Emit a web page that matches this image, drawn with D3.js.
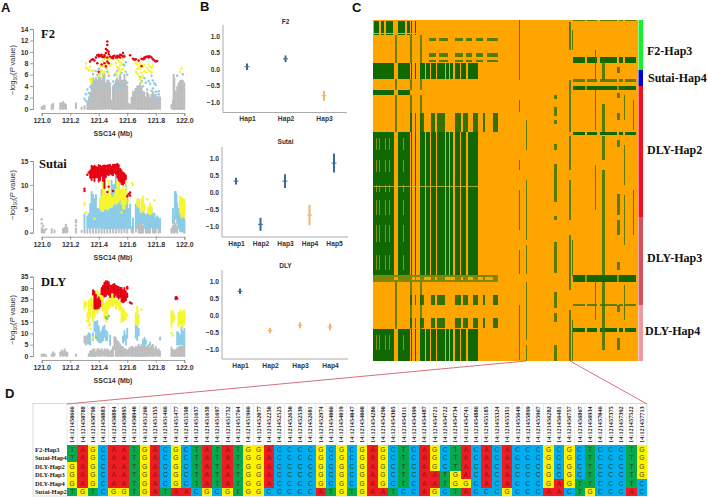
<!DOCTYPE html>
<html><head><meta charset="utf-8">
<script src="https://d3js.org/d3.v7.min.js"></script>
<style>html,body{margin:0;padding:0;background:#fff;overflow:hidden}svg{display:block}</style>
</head><body><svg id="c" width="708" height="497"></svg>
<script>
// ---------- Panel A data: [Mb, low, high] columns of dense SNP clouds, [Mb, -log10P] single SNPs
const mbTicks=[121.0,121.2,121.4,121.6,121.8,122.0];
const f2Ticks=[0,2,4,6,8,10,12,14], sutaiTicks=[0,5,10,15], dlyTicks=[0,5,10,15,20,25,30,35];

const f2Gray=[[121,0,.5],[121.01,0,.5],[121.02,0,.6],[121.07,0,.7],[121.08,0,.9],[121.13,0,1],[121.14,0,1],[121.15,0,1.3],[121.16,0,.9],[121.17,0,.8],[121.24,0,1],[121.28,0,.4],[121.3,0,.6],[121.32,0,1.2],[121.33,0,2],[121.34,0,3],[121.35,0,5],[121.36,0,5.5],[121.37,0,5],[121.38,0,5.5],[121.39,0,5],[121.4,0,6.5],[121.41,0,5.5],[121.42,0,5],[121.43,0,6],[121.44,0,6.5],[121.45,0,4.5],[121.46,0,5],[121.47,0,5],[121.48,0,4],[121.49,0,1.5],[121.5,0,4],[121.51,0,4.5],[121.52,0,5],[121.53,0,5.5],[121.54,0,5],[121.55,0,6],[121.56,0,5],[121.57,0,5],[121.58,0,6],[121.59,0,5],[121.6,0,4],[121.61,0,1],[121.62,0,.8],[121.63,0,2],[121.64,0,3],[121.65,0,3],[121.66,0,3.5],[121.67,0,4],[121.68,0,4],[121.69,0,4.5],[121.7,0,4],[121.71,0,3],[121.72,0,3],[121.73,0,2],[121.74,0,3],[121.75,0,2.5],[121.76,0,2],[121.77,0,2.5],[121.78,0,3],[121.79,0,2.5],[121.8,0,2.5],[121.81,0,2],[121.82,0,2.2],[121.83,0,2],[121.91,0,.7],[121.92,0,1.5],[121.925,1,6],[121.93,0,5.5],[121.94,0,3],[121.95,0,4],[121.96,0,4.5],[121.97,0,5],[121.98,0,5],[121.99,0,5],[122,0,4.5]];
const f2Blue=[[121.3,1.8],[121.31,2.6],[121.32,3.4],[121.33,1.5],[121.34,3.9],[121.35,2.2],[121.37,4.8],[121.38,6.6],[121.39,5.9],[121.4,7],[121.41,6.2],[121.43,5.3],[121.44,3.9],[121.45,7.2],[121.47,5.8],[121.5,4.8],[121.51,5.9],[121.52,4.4],[121.53,6.7],[121.54,4.3],[121.55,5.5],[121.56,6.3],[121.57,7.8],[121.58,9.4],[121.59,6.5],[121.6,4.6],[121.66,3.5],[121.68,2.8],[121.7,4.9],[121.72,5.4],[121.74,3.4],[121.76,4.4],[121.77,5.8],[121.78,3.6],[121.79,2],[121.8,4.2],[121.81,1.6],[121.95,5.8],[121.99,6.1],[121.31,1.4],[121.33,2.8],[121.35,3.7],[121.36,6.1],[121.38,4.1],[121.42,6.7],[121.46,6.5],[121.48,4.4],[121.5,3.2],[121.52,6.2],[121.54,7.1],[121.55,4],[121.56,3.5],[121.58,7.6],[121.59,8.2],[121.6,6],[121.69,5.6],[121.71,4],[121.73,4.6],[121.75,4.9],[121.77,3.2],[121.78,5],[121.79,4.5],[121.8,3],[121.82,3.1],[121.82,2.6]];
const f2Yellow=[[121.31,8],[121.31,7.2],[121.32,7],[121.33,6.8],[121.34,7.4],[121.35,6.8],[121.35,5.4],[121.35,5],[121.34,5.2],[121.4,5.8],[121.41,6.4],[121.41,7.4],[121.42,6.8],[121.43,8.4],[121.43,7.5],[121.44,9.5],[121.44,8.8],[121.44,6.4],[121.45,8.9],[121.45,9.8],[121.46,7],[121.46,9.1],[121.47,6.2],[121.47,8.7],[121.48,7.6],[121.49,7.9],[121.52,8],[121.52,6.4],[121.53,7.4],[121.53,5.8],[121.54,7],[121.54,8.4],[121.55,7.6],[121.55,6.5],[121.56,7.9],[121.57,8.7],[121.57,7],[121.58,6.6],[121.66,8],[121.66,6.5],[121.67,7.8],[121.67,6.2],[121.68,7.2],[121.68,5.8],[121.69,7.9],[121.69,7],[121.69,5.2],[121.7,6.3],[121.7,4.6],[121.71,7.5],[121.71,5.8],[121.72,6.6],[121.74,7.2],[121.75,7.8],[121.75,6.8],[121.76,7.4],[121.77,6.4],[121.78,7.6],[121.98,7.1],[121.97,6.5],[121.36,6.7],[121.35,4.6],[121.42,5.6],[121.43,6.2],[121.45,7.9],[121.46,8],[121.48,8.8],[121.53,8.7],[121.55,8.2],[121.56,6.9],[121.67,7],[121.68,8.3],[121.7,7.7],[121.7,5.5],[121.72,7.7],[121.73,6.4],[121.76,6.6],[121.77,7.2]];
const f2Red=[[121.34,8.3],[121.35,8.6],[121.36,8.7],[121.37,8.5],[121.38,9],[121.39,9.4],[121.4,9.5],[121.41,9.3],[121.42,9.2],[121.43,9.1],[121.44,9.4],[121.45,9.8],[121.46,10.3],[121.46,11.2],[121.46,11.8],[121.47,9.6],[121.48,9.2],[121.49,9],[121.5,9.2],[121.51,9.3],[121.52,9],[121.53,9.3],[121.54,9.2],[121.55,9.5],[121.56,9.4],[121.57,9.8],[121.58,9.2],[121.62,9.4],[121.64,8.8],[121.65,8.6],[121.66,8.7],[121.68,8.5],[121.7,8.8],[121.71,8.7],[121.72,9],[121.73,9.1],[121.74,9.2],[121.75,9.2],[121.76,9.2],[121.77,9],[121.78,8.7],[121.79,8.5],[121.8,8.3],[121.81,8.4],[121.44,8],[121.45,7.5],[121.46,8.3],[121.47,8],[121.42,7.8],[121.4,6.5],[121.39,8],[121.7,7.5],[121.46,9],[121.45,10.5],[121.47,10],[121.4,9.2],[121.42,9.5],[121.44,9.1],[121.5,8.9],[121.53,9],[121.55,9],[121.57,9.2],[121.75,9],[121.72,8.8]];

const sutaiGray=[[121,.1,1],[121.01,0,.8],[121.02,0,.5],[121.07,0,.9],[121.09,0,.6],[121.15,0,.9],[121.16,0,1],[121.17,0,1.5],[121.18,0,1],[121.24,0,1],[121.28,0,.4],[121.3,0,.8],[121.32,0,.6],[121.34,0,1],[121.36,0,.8],[121.38,0,1],[121.4,0,.9],[121.42,0,1],[121.44,0,.8],[121.46,0,1],[121.48,0,1.2],[121.5,0,1],[121.52,0,1.2],[121.54,0,1.3],[121.56,0,1],[121.58,0,1],[121.6,0,1],[121.63,0,1.2],[121.64,0,1.8],[121.66,0,1.5],[121.68,0,2],[121.69,0,3],[121.7,0,2],[121.71,0,1.5],[121.73,0,3],[121.74,0,2],[121.75,0,2],[121.76,0,1.6],[121.78,0,2.4],[121.79,0,1.5],[121.8,0,2],[121.82,0,1.6],[121.83,0,1],[121.91,0,.9],[121.92,0,1.4],[121.93,0,3],[121.94,0,1.8],[121.95,0,1.2],[121.96,1,3.5],[121.97,2,5],[121.98,2,4.5],[121.99,1,5],[122,0,2]];
const sutaiGraySingles=[[121,2.8],[121,1.9],[121.01,1.4],[121.24,2.6],[121.24,2.2],[121.17,1.6],[121.03,.7],[121.24,1.5],[121.7,3.6],[121.73,3.5]];
const sutaiBlue=[[121.3,1,4],[121.32,1,3.4],[121.33,1,4],[121.34,1,6],[121.35,1,8.5],[121.36,1,8],[121.37,1,7],[121.38,1,8],[121.39,1,5],[121.4,1,5],[121.41,1,7],[121.42,1,9],[121.43,1,9],[121.44,1,5],[121.45,1,6],[121.46,1,5],[121.47,1,5],[121.48,1,7],[121.49,1,11],[121.5,1,10],[121.51,1,10],[121.52,1,12],[121.53,1,12],[121.54,1,11],[121.55,1,8],[121.56,1,9],[121.57,1,8],[121.58,1,8],[121.59,1,10],[121.6,1,8],[121.61,1,5],[121.62,1,6],[121.64,1,3],[121.66,1,6],[121.67,1,6],[121.68,2,7],[121.69,2,4],[121.7,2,5],[121.71,2,7],[121.72,1,4],[121.73,1,3],[121.74,1,4],[121.75,1,5],[121.76,1,4],[121.77,1,5],[121.78,1,4],[121.79,1,4],[121.8,1,3],[121.81,1,3.5],[121.82,1,3],[121.83,1,3],[121.92,2,5],[121.935,3,8.5],[121.94,3,8.5],[121.945,3,8],[121.95,2,6],[121.96,1,5],[121.97,.3,3],[121.98,.2,4],[121.99,.2,3],[122,0,3]];
const sutaiYellow=[[121.41,5,7],[121.42,4.5,7.5],[121.43,4.5,10.5],[121.44,5,11],[121.45,5,8],[121.46,4.8,8.2],[121.47,5,10.8],[121.48,5.4,8],[121.49,5.2,7.6],[121.5,5.8,7.4],[121.51,6,8],[121.52,6,9],[121.53,6.2,11],[121.54,6.5,10.5],[121.55,7,9],[121.56,6,8.6],[121.57,5,10],[121.58,5,9],[121.59,6,9.5],[121.67,5.6,7],[121.68,5.4,6.8],[121.7,4.2,7],[121.71,4.6,7.6],[121.72,4.4,6],[121.75,4,5.6],[121.76,3.8,6],[121.77,4,5.4],[121.97,4,7.5],[121.98,3.2,7.4],[121.99,3.4,7.2],[122,3.2,7]];
const sutaiYellowSingles=[[121.3,6.2],[121.3,5.8],[121.31,4.2],[121.37,2.9],[121.63,10.4],[121.64,10],[121.6,10.6],[121.61,6.6],[121.56,4.2],[121.79,6.8],[121.74,7]];
const sutaiRed=[[121.34,11.5,13],[121.35,11,14],[121.36,11.5,13.9],[121.37,10.8,14],[121.38,11.5,13.8],[121.39,11.6,13.6],[121.4,10.6,14.2],[121.41,11,14],[121.42,11.8,13.8],[121.43,10.8,14],[121.44,9.2,14.2],[121.45,11.6,14],[121.46,12.2,14.1],[121.47,12,14.1],[121.48,12.4,14.2],[121.49,12.2,13.9],[121.5,12,14.2],[121.51,12.6,14.3],[121.52,12.3,14.2],[121.53,11.6,14.4],[121.54,11,14.2],[121.55,10.6,13.4],[121.56,10.2,13],[121.57,10,12.6],[121.58,10.4,12.4],[121.59,11,12]];
const sutaiRedSingles=[[121.3,9.2],[121.3,8.7],[121.33,12.6],[121.32,12.1],[121.62,7.8],[121.62,8.4],[121.6,7.6],[121.5,8.7],[121.46,8.5],[121.47,9.6],[121.61,8.1]];

const dlyGray=[[121,0,.7],[121.01,0,.7],[121.02,0,.7],[121.03,0,.7],[121.07,0,.7],[121.08,0,1.8],[121.09,0,1],[121.13,0,1.5],[121.14,0,2.5],[121.15,0,2],[121.16,0,3],[121.17,0,1.8],[121.18,0,1.5],[121.24,0,1],[121.3,6,9],[121.31,5,8.5],[121.32,5.5,9],[121.33,0,1.2],[121.34,0,2],[121.35,0,2.2],[121.36,0,3],[121.37,0,3],[121.38,0,2],[121.39,0,3],[121.4,0,3],[121.41,0,2.5],[121.42,0,3],[121.43,0,2],[121.44,0,3],[121.45,0,2.5],[121.46,0,3],[121.47,0,2.4],[121.48,0,1.8],[121.49,0,3],[121.5,0,4],[121.51,3,8.4],[121.52,0,8],[121.53,0,7],[121.54,0,6],[121.55,0,5],[121.56,0,4],[121.57,0,4],[121.58,0,3],[121.59,0,3],[121.6,0,2.6],[121.61,0,3],[121.62,0,3.6],[121.63,0,4],[121.64,0,4],[121.65,0,3.5],[121.66,0,4.2],[121.67,0,4],[121.68,0,5],[121.69,0,4],[121.7,0,5],[121.71,0,4.2],[121.72,0,5],[121.73,0,4],[121.74,0,4.4],[121.75,0,5],[121.76,0,3.6],[121.77,0,4.4],[121.78,0,5],[121.79,0,3],[121.8,0,4],[121.81,0,2.6],[121.82,0,3],[121.83,0,2],[121.91,0,3.8],[121.92,0,3],[121.93,0,2.6],[121.94,0,2.4],[121.95,0,3.6],[121.96,0,4],[121.97,0,4],[121.98,0,4.5],[121.99,0,4],[122,0,5]];
const dlyBlue=[[121.33,5.5,10],[121.34,5,9.6],[121.36,7,10],[121.37,11,15],[121.38,9,15],[121.39,7,15.5],[121.4,6,13],[121.41,6,10],[121.42,6,11],[121.43,7,13],[121.44,8,13.5],[121.45,7,11],[121.46,7,10.5],[121.48,5,9],[121.57,6,9],[121.58,7,11],[121.59,5,9],[121.6,8,12],[121.66,8,14],[121.67,7,13],[121.68,9,12],[121.71,5,7],[121.72,4.5,8],[121.73,5,7],[121.76,5,6],[121.83,7,8.5],[121.95,5,11],[121.96,5,10],[121.97,5,9],[121.98,5,13],[121.99,5,11],[122,5,12]];
const dlyYellow=[[121.3,21,24],[121.31,22,23.5],[121.32,17,19],[121.33,15,24.4],[121.34,17,25],[121.35,21,25.8],[121.36,15,24.6],[121.37,17,28],[121.38,21,27],[121.39,19,29],[121.4,20,28],[121.41,22,28],[121.42,22,26],[121.43,20,27],[121.44,17,23],[121.45,15,24],[121.46,18,24.5],[121.47,21,26],[121.48,22,25],[121.49,22,26],[121.5,22,27],[121.51,23,26],[121.52,21,25],[121.53,22.5,25],[121.54,21,24],[121.55,20,24],[121.56,15,21.5],[121.57,15,21],[121.58,16,20],[121.59,16,19],[121.66,14,19],[121.67,14,22],[121.68,14,18],[121.91,14,20],[121.92,15,19.6],[121.93,16,18],[121.96,13,19],[121.97,14,20],[121.98,14,19],[121.99,13,20],[122,14,20]];
const dlyYellowSingles=[[121.34,12],[121.34,14],[121.32,15.5],[121.33,13.6],[121.35,7.6],[121.36,8],[121.45,16.4],[121.91,10],[121.92,9],[121.91,13],[121.66,15],[121.7,20.5],[121.6,18]];
const dlyGreenSingles=[[121.46,16.4],[121.45,17],[121.47,17.5],[121.38,8.2]];
const dlyRed=[[121.36,27,29],[121.37,21,28.5],[121.38,20.8,27],[121.39,21,25],[121.4,21,26],[121.41,22,24.5],[121.42,27,30],[121.43,27,31],[121.44,26,32.5],[121.45,26.5,33],[121.46,27,33],[121.47,27,32.5],[121.48,26,31.5],[121.49,28,31],[121.5,28,31.5],[121.51,26,31.8],[121.52,27,31],[121.53,26,31],[121.54,25.4,30.5],[121.55,26,30],[121.56,24,30],[121.57,23.6,29],[121.58,24,30],[121.59,24.4,28.6],[121.6,26,27.6]];
const dlyRedSingles=[[121.6,30.5],[121.6,29.8],[121.62,23.6],[121.63,23.2],[121.94,25.8],[121.95,25.4],[121.945,25.9],[121.94,25.2]];

// ---------- Panel B data
const f2Haps=["Hap1","Hap2","Hap3"], f2Mean=[.07,.31,-.81], f2Err=[.10,.10,.15], f2Tone=["b","b","o"];
const sutaiHaps=["Hap1","Hap2","Hap3","Hap4","Hap5"], sutaiMean=[.32,-.95,.32,-.68,.85], sutaiErr=[.10,.19,.2,.3,.28], sutaiTone=["b","b","b","o","b"];
const dlyHaps=["Hap1","Hap2","Hap3","Hap4"], dlyMean=[.70,-.46,-.30,-.35], dlyErr=[.08,.08,.09,.1], dlyTone=["b","o","o","o"];
const effectTicks=[1,.5,0,-.5,-1];

// ---------- Panel C data: genotype blocks, as SNP index ranges by sample index ranges
const colsMainA=[[0,21],[25,37]];
const colsMainB=[[38,39],[42,43],[47,52],[53,57],[58,63],[64,72],[73,76],[77,80],[82,87],[88,93],[95,105]];
const colsTop=[[1,6],[8,11],[13,20],[25,32],[34,37],[38,39],[42,43]];
const colsCross=[[22,24],[37,39],[47,49]];
const colsMid=[[37,39],[42,43],[47,51],[58,62],[64,72],[82,88],[90,95],[100,105],[110,112],[120,125]];
const colsDash=[[56,63],[66,75],[82,90],[93,99],[103,110],[114,125]];
const colsRight=[[200,212],[214,224],[227,244],[246,250],[252,263]];
const colsRightSolid=[[200,263]];
const colsSpeckle=[[3,4],[6,7],[12,13],[16,17],[30,31]];
const rowsMain=[[112,255],[309,341]];
const rowsSecond=[[43,59]];
const rowsTop=[[1,13],[14,15]];
const rowsThin=[[70,75]];
const rowsCross=[[15,43],[59,70],[75,112],[262,309]];
const rowsMid=[[93,112],[275,285],[298,308]];
const rowsDash=[[18,21],[33,37],[40,42]];
const rowsBandLines=[[255,257],[260,262]];
const rowsRightFull=[[66,70],[255,262]];
const rowsRightMed=[[37,43],[112,115],[308,312]];
const rowsRightThin=[[0,1],[59,62],[284,286]];
const rowsSpeckle=[[118,130],[140,152],[165,172],[180,195],[205,222],[235,250],[315,330]];
const colsSparse=[[181,184,75,79],[181,184,87,96],[181,184,100,104],[181,184,124,130],[181,184,144,182],[181,184,196,200],[181,184,222,253],[181,184,272,288],[181,184,293,302],[181,184,325,341],
 [146,147,0,60],[146,147,80,92],[146,147,140,150],[146,147,170,210],[146,147,230,254],[146,147,285,340],[153,154,100,130],[153,154,160,220],[153,154,225,254],[153,154,262,320],[153,154,325,341],
 [196,198,2,30],[196,198,60,112],[196,198,116,150],[196,198,160,200],[196,198,215,270],[196,198,290,341],[199,200,10,30],[199,200,220,256],[199,200,300,341],
 [229,232,42,60],[229,232,84,112],[229,232,116,140],[229,232,150,256],[229,232,262,330],[222,223,30,60],[222,223,70,110],[222,223,145,190],[222,223,260,300],
 [244,247,47,53],[244,247,73,78],[244,247,93,100],[244,247,120,127],[244,247,174,195],[244,247,200,215],[244,247,242,250],[244,247,285,292],[244,247,318,330],[251,252,75,100],[251,252,125,165],[251,252,175,225],[251,252,265,300],[260,261,80,110],[260,261,170,215]];
const groupNames=["F2-Hap3","Sutai-Hap4","DLY-Hap2","DLY-Hap3","DLY-Hap4"];
const groupEnds=[50,66,197,285,341];
const groupColors=["#19f02c","#0000dd","#f01020","#d9505c","#eb9aa2"];

// ---------- Panel D data
const snpIds=["450666","450788","450798","450883","450884","450895","450940","451260","451355","451466","451477","451598","451657","451658","451697","451752","451764","451966","452077","452250","452525","452650","452539","452681","452974","454006","454019","454047","454060","454286","454290","454305","454311","454399","454487","454721","454722","454734","454741","454886","455185","455324","455351","455649","455899","455967","456282","456481","456757","456867","456934","457046","457375","457392","457522","457713"];
const hapRows=["F2-Hap3","Sutai-Hap4","DLY-Hap2","DLY-Hap3","DLY-Hap4","Sutai-Hap2"];
const snpCalls=["TTGGGT","AAAAAG","GGGGGT","CCCCCC","AAAAAG","AAAAAG","TTTTTT","GGGGGG","AAAAAA","CCCCCT","GGGGGA","CCCCCA","TTTTTC","AAAAAG","TTTTTC","AAAAAG","TTTTTT","GGGGGG","GGGGGG","AAAAAC","CCCCCC","CCCCCC","CCCCCC","CCCCCC","GGGGGA","CCCCCT","GGGGGG","CCCCCT","GGGGGG","AAAAAA","GGGGGA","CCCCCT","TTTTTC","CCCCCC","AAAAAA","GGGAAG","CCCTTC","TTTGGT","AAAAGA","CCCCCC","AAAAAC","CCCCCC","AAAAAG","CCCCCC","CCCCCC","CCCCCC","GGGGGA","CCCCAA","GGGGGC","CCCCTT","TTTTTG","CCCCCC","CCCCCC","CCCCCC","TTTTTA","GGGGCC"];
const baseColor={A:"#ee1c23",T:"#08a84e",G:"#fff200",C:"#00aeef"};

// ---------- Drawing
const svg=d3.select("#c");
const SANS="'Liberation Sans',Arial,sans-serif", SERIF="'Liberation Serif','Times New Roman',serif";
const GRAY="#bdbdbd",BLUE="#8bcbe8",YEL="#f6f62e",RED="#e60012",GREEN="#8fbf50";

[["A",1,12],["B",200,11],["C",352,12],["D",5,398]].forEach(([t,x,y])=>svg.append("text").attr("x",x).attr("y",y).attr("font-family",SANS).attr("font-weight","bold").attr("font-size",13).attr("fill","#111").text(t));

function manhattan(o){
  const x=d3.scaleLinear().domain([121,122]).range([41.7,184.3]);
  const y=d3.scaleLinear().domain([0,o.max]).range([o.y0,o.y1]);
  const g=svg.append("g");
  const ax=g.append("g").attr("transform",`translate(0,${o.y0+4})`).call(d3.axisBottom(x).tickValues(mbTicks).tickFormat(d3.format(".1f")).tickSize(3).tickPadding(2));
  const ay=g.append("g").attr("transform","translate(33,0)").call(d3.axisLeft(y).tickValues(o.ticks).tickSize(3).tickPadding(1.5));
  [ax,ay].forEach(a=>{a.selectAll("path").attr("stroke","#777").attr("stroke-width",.7);a.selectAll("line").attr("stroke","#777").attr("stroke-width",.7);
    a.selectAll("text").attr("font-family",SANS).attr("font-weight","bold").attr("font-size",7).attr("fill","#333");});
  g.append("text").attr("x",113).attr("y",o.y0+27).attr("text-anchor","middle").attr("font-family",SANS).attr("font-weight","bold").attr("font-size",7).attr("fill","#333").text("SSC14 (Mb)");
  const yl=g.append("text").attr("transform",`translate(15,${o.labelY}) rotate(-90)`).attr("text-anchor","middle").attr("font-family",SANS).attr("font-size",7.5).attr("fill","#333");
  yl.append("tspan").text("\u2212log");yl.append("tspan").attr("font-size",5).attr("dy",1.5).text("10");
  yl.append("tspan").attr("dy",-1.5).text("(");yl.append("tspan").attr("font-style","italic").text("P");yl.append("tspan").text(" value)");
  g.append("text").attr("x",o.nameX).attr("y",o.nameY).attr("font-family",SERIF).attr("font-weight","bold").attr("font-size",12.5).attr("fill","#111").text(o.name);
  o.layers.forEach(l=>{
    if(l.cols) g.append("g").selectAll("line").data(l.cols).join("line")
      .attr("x1",d=>x(d[0])).attr("x2",d=>x(d[0])).attr("y1",d=>y(d[1])).attr("y2",d=>y(d[2]))
      .attr("stroke",l.c).attr("stroke-width",2).attr("stroke-linecap","round").attr("stroke-dasharray","2,.9").attr("stroke-dashoffset",(d,i)=>(i*1.37)%2.9);
    if(l.pts) g.append("g").selectAll("circle").data(l.pts).join("circle")
      .attr("cx",d=>x(d[0])).attr("cy",d=>y(d[1])).attr("r",1.25).attr("fill",l.c);
  });
}
manhattan({name:"F2",nameX:41,nameY:38,max:14,y0:109,y1:29,ticks:f2Ticks,labelY:70,layers:[{cols:f2Gray,c:GRAY},{pts:f2Blue,c:BLUE},{pts:f2Yellow,c:YEL},{pts:f2Red,c:RED}]});
manhattan({name:"Sutai",nameX:39,nameY:168,max:15,y0:232.7,y1:161,ticks:sutaiTicks,labelY:195,layers:[{cols:sutaiGray,c:GRAY},{pts:sutaiGraySingles,c:GRAY},{cols:sutaiBlue,c:BLUE},{cols:sutaiYellow,c:YEL},{pts:sutaiYellowSingles,c:YEL},{cols:sutaiRed,c:RED},{pts:sutaiRedSingles,c:RED}]});
manhattan({name:"DLY",nameX:41,nameY:286,max:35,y0:356,y1:276.7,ticks:dlyTicks,labelY:320,layers:[{cols:dlyGray,c:GRAY},{cols:dlyBlue,c:BLUE},{cols:dlyYellow,c:YEL},{pts:dlyYellowSingles,c:YEL},{pts:dlyGreenSingles,c:GREEN},{cols:dlyRed,c:RED},{pts:dlyRedSingles,c:RED}]});

function effects(o){
  const g=svg.append("g");
  const y=d3.scaleLinear().domain([-1,1]).range([o.yM,o.yP]);
  const x=d3.scalePoint().domain(o.haps).range(o.xr);
  const tone={b:"#3b6a99",o:"#f3b26f"};
  g.append("path").attr("d",`M${o.left},${o.top}V${o.bot}H${o.right}`).attr("fill","none").attr("stroke","#aaa").attr("stroke-width",1);
  g.append("text").attr("x",285.5).attr("y",o.titleY).attr("text-anchor","middle").attr("font-family",SANS).attr("font-weight","bold").attr("font-size",6.5).attr("fill","#333").text(o.title);
  const ay=g.append("g").attr("transform",`translate(${o.left},0)`).call(d3.axisLeft(y).tickValues(effectTicks).tickFormat(d3.format(".1f")).tickSize(0).tickPadding(3));
  ay.select("path").remove();
  const ax=g.append("g").attr("transform",`translate(0,${o.bot})`).call(d3.axisBottom(x).tickSize(0).tickPadding(4));
  ax.select("path").remove();
  [ax,ay].forEach(a=>a.selectAll("text").attr("font-family",SANS).attr("font-weight","bold").attr("font-size",6.7).attr("fill","#333"));
  o.haps.forEach((h,i)=>{
    const c=tone[o.tone[i]];
    g.append("line").attr("x1",x(h)).attr("x2",x(h)).attr("y1",y(o.mean[i]-o.err[i])).attr("y2",y(o.mean[i]+o.err[i])).attr("stroke",c).attr("stroke-width",2);
    g.append("line").attr("x1",x(h)-2.5).attr("x2",x(h)+2.5).attr("y1",y(o.mean[i])).attr("y2",y(o.mean[i])).attr("stroke",c).attr("stroke-width",1);
  });
}
effects({title:"F2",titleY:24,haps:f2Haps,mean:f2Mean,err:f2Err,tone:f2Tone,left:223,right:347,top:25,bot:112.5,yP:36,yM:102,xr:[247,324]});
effects({title:"Sutai",titleY:144,haps:sutaiHaps,mean:sutaiMean,err:sutaiErr,tone:sutaiTone,left:222,right:348,top:147,bot:237,yP:158,yM:226,xr:[236,334]});
effects({title:"DLY",titleY:268,haps:dlyHaps,mean:dlyMean,err:dlyErr,tone:dlyTone,left:222,right:348,top:270,bot:359,yP:281,yM:349,xr:[240,330]});

// Panel C
const hx=d3.scaleLinear().domain([0,265]).range([373,638]);
const hy=d3.scaleLinear().domain([0,341]).range([20,361]);
const hm=svg.append("g").attr("shape-rendering","crispEdges");
hm.append("rect").attr("x",hx(0)).attr("y",hy(0)).attr("width",hx(265)-hx(0)).attr("height",hy(341)-hy(0)).attr("fill","#ffa500");
function blocks(rows,cols,fill,op){
  const cells=d3.cross(rows,cols);
  hm.append("g").selectAll("rect").data(cells).join("rect")
    .attr("x",d=>hx(d[1][0])).attr("width",d=>hx(d[1][1])-hx(d[1][0]))
    .attr("y",d=>hy(d[0][0])).attr("height",d=>hy(d[0][1])-hy(d[0][0]))
    .attr("fill",fill).attr("opacity",op);
}
const DG="#0f6800";
blocks(rowsCross,colsCross,"#6d8200",1);
blocks(rowsMid,colsMid,DG,.85);
blocks(rowsDash,colsDash,"#4c7a00",.95);
blocks(rowsTop,colsTop,DG,1);
blocks(rowsSecond,colsMainA.concat(colsMainB),DG,1);
blocks(rowsThin,colsMainA,DG,1);
blocks(rowsMain,colsMainA.concat(colsMainB),DG,1);
blocks(rowsSpeckle,colsSpeckle,"#9a9a10",.85);
blocks(rowsBandLines,[[0,125]],"#6f8400",.9);
blocks([[257,260]],colsMainA.concat(colsMid),"#6f8400",.9);
blocks(rowsRightFull,colsRightSolid,DG,1);
blocks(rowsRightFull,[[212,214],[244,246]],"#a09000",1);
blocks(rowsRightMed,colsRight,DG,1);
blocks(rowsRightThin,colsRight,"#4c7a00",.9);
hm.append("g").selectAll("rect").data(colsSparse).join("rect")
  .attr("x",d=>hx(d[0])).attr("width",d=>hx(d[1])-hx(d[0])).attr("y",d=>hy(d[2])).attr("height",d=>hy(d[3])-hy(d[2]))
  .attr("fill","#3d7200").attr("opacity",.85);
blocks([[166,167]],[[0,106]],"#c9b83a",.8);
const ends=[0].concat(groupEnds);
svg.append("g").selectAll("rect").data(groupNames).join("rect")
  .attr("x",hx(265)+.5).attr("width",4.5).attr("y",(d,i)=>hy(ends[i])).attr("height",(d,i)=>hy(ends[i+1])-hy(ends[i])).attr("fill",(d,i)=>groupColors[i]);
const groupLabelX=[647,648,647,647,645],groupLabelY=[51,78,150,258,331];
svg.append("g").selectAll("text").data(groupNames).join("text")
  .attr("x",(d,i)=>groupLabelX[i]).attr("y",(d,i)=>groupLabelY[i]+4).attr("font-family",SERIF).attr("font-weight","bold").attr("font-size",12).attr("fill","#111").text(d=>d);

// Panel D
const tx=d3.scaleBand().domain(snpIds).range([67,647]);
const ty=d3.scaleBand().domain(hapRows).range([445,496]);
const tbl=svg.append("g");
tbl.append("g").selectAll("line").data(snpIds).join("line").attr("x1",d=>tx(d)).attr("x2",d=>tx(d)).attr("y1",404).attr("y2",445).attr("stroke","#ddd").attr("stroke-width",.6);
tbl.append("rect").attr("x",33).attr("y",403.5).attr("width",614).attr("height",92.5).attr("fill","none").attr("stroke","#ccc").attr("stroke-width",.7);
tbl.append("g").selectAll("text").data(snpIds).join("text")
  .attr("transform",d=>`translate(${tx(d)+tx.bandwidth()/2+2},443) rotate(-90)`)
  .attr("font-family",SERIF).attr("font-size",6.3).attr("font-weight","bold").attr("fill","#222").text(d=>"14:121"+d);
tbl.append("g").selectAll("text").data(hapRows).join("text")
  .attr("x",35).attr("y",d=>ty(d)+ty.bandwidth()/2+2.5).attr("font-family",SERIF).attr("font-weight","bold").attr("font-size",6.5).attr("fill","#222").text(d=>d);
const calls=snpIds.flatMap((s,i)=>hapRows.map((h,j)=>({s,h,b:snpCalls[i][j]})));
tbl.append("g").attr("shape-rendering","crispEdges").selectAll("rect").data(calls).join("rect")
  .attr("x",d=>tx(d.s)).attr("y",d=>ty(d.h)).attr("width",tx.bandwidth()+.3).attr("height",ty.bandwidth()+.3).attr("fill",d=>baseColor[d.b]);
tbl.append("g").selectAll("text").data(calls).join("text")
  .attr("x",d=>tx(d.s)+tx.bandwidth()/2).attr("y",d=>ty(d.h)+ty.bandwidth()/2+2.3).attr("text-anchor","middle")
  .attr("font-family",SANS).attr("font-size",6.6).attr("fill",d=>d.b==="A"?"#8a1a10":"#2f3a20").text(d=>d.b);

// Zoom connector lines
const connectors=[[153,341,67,404],[197,341,647,404]];
svg.append("g").selectAll("line").data(connectors).join("line")
  .attr("x1",d=>hx(d[0])).attr("y1",d=>hy(d[1])).attr("x2",d=>d[2]).attr("y2",d=>d[3]).attr("stroke","#d2606c").attr("stroke-width",.9);
</script></body></html>
